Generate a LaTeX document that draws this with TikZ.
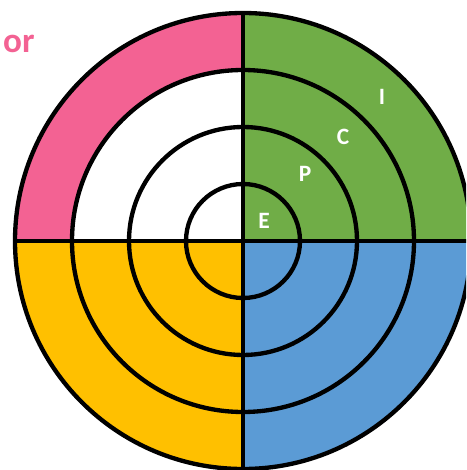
\documentclass[tikz,border=0pt]{standalone}
\usepackage{fontspec}
\setmainfont{Carlito}
\usepackage{tikz}
\definecolor{pinkink}{RGB}{243, 98, 147}
\definecolor{greenink}{RGB}{112, 173, 71}
\definecolor{yellowink}{RGB}{255, 192, 0}
\definecolor{blueink}{RGB}{91, 155, 213}

\begin{document}
\begin{tikzpicture}[x=0.03cm, y=0.03cm, line width=0.13cm]
  \useasboundingbox (0,0) rectangle (466,470);
  \clip (0,0) rectangle (466,470);
  \coordinate (c) at (243,229);
  % quarters
  \fill[greenink] (c) -- ++(0:228) arc[start angle=0, end angle=90, radius=228] -- cycle;
  \fill[yellowink] (c) -- ++(180:228) arc[start angle=180, end angle=270, radius=228] -- cycle;
  \fill[blueink] (c) -- ++(270:228) arc[start angle=270, end angle=360, radius=228] -- cycle;
  \fill[pinkink] (c) ++(180:228) arc[start angle=180, end angle=90, radius=228]
    -- ++(0,-57) arc[start angle=90, end angle=180, radius=171] -- cycle;
  % rings and cross
  \foreach \r in {57,114,171,228}
    \draw (c) circle[radius=\r];
  \draw (c) ++(-228,0) -- ++(456,0);
  \draw (c) ++(0,-228) -- ++(0,456);
  % labels
  \node[white, font=\fontsize{20}{24}\selectfont\bfseries] (e) at (264,249) {E};
  \node[white, font=\fontsize{20}{24}\selectfont\bfseries] (p) at (305,296) {P};
  \node[white, font=\fontsize{20}{24}\selectfont\bfseries] (cc) at (343,333) {C};
  \node[white, font=\fontsize{20}{24}\selectfont\bfseries] (i) at (382,373) {I};
  \node[pinkink, anchor=base west, inner sep=0pt, font=\fontsize{30}{36}\selectfont\bfseries] (or) at (1,417) {or};
\end{tikzpicture}
\end{document}
